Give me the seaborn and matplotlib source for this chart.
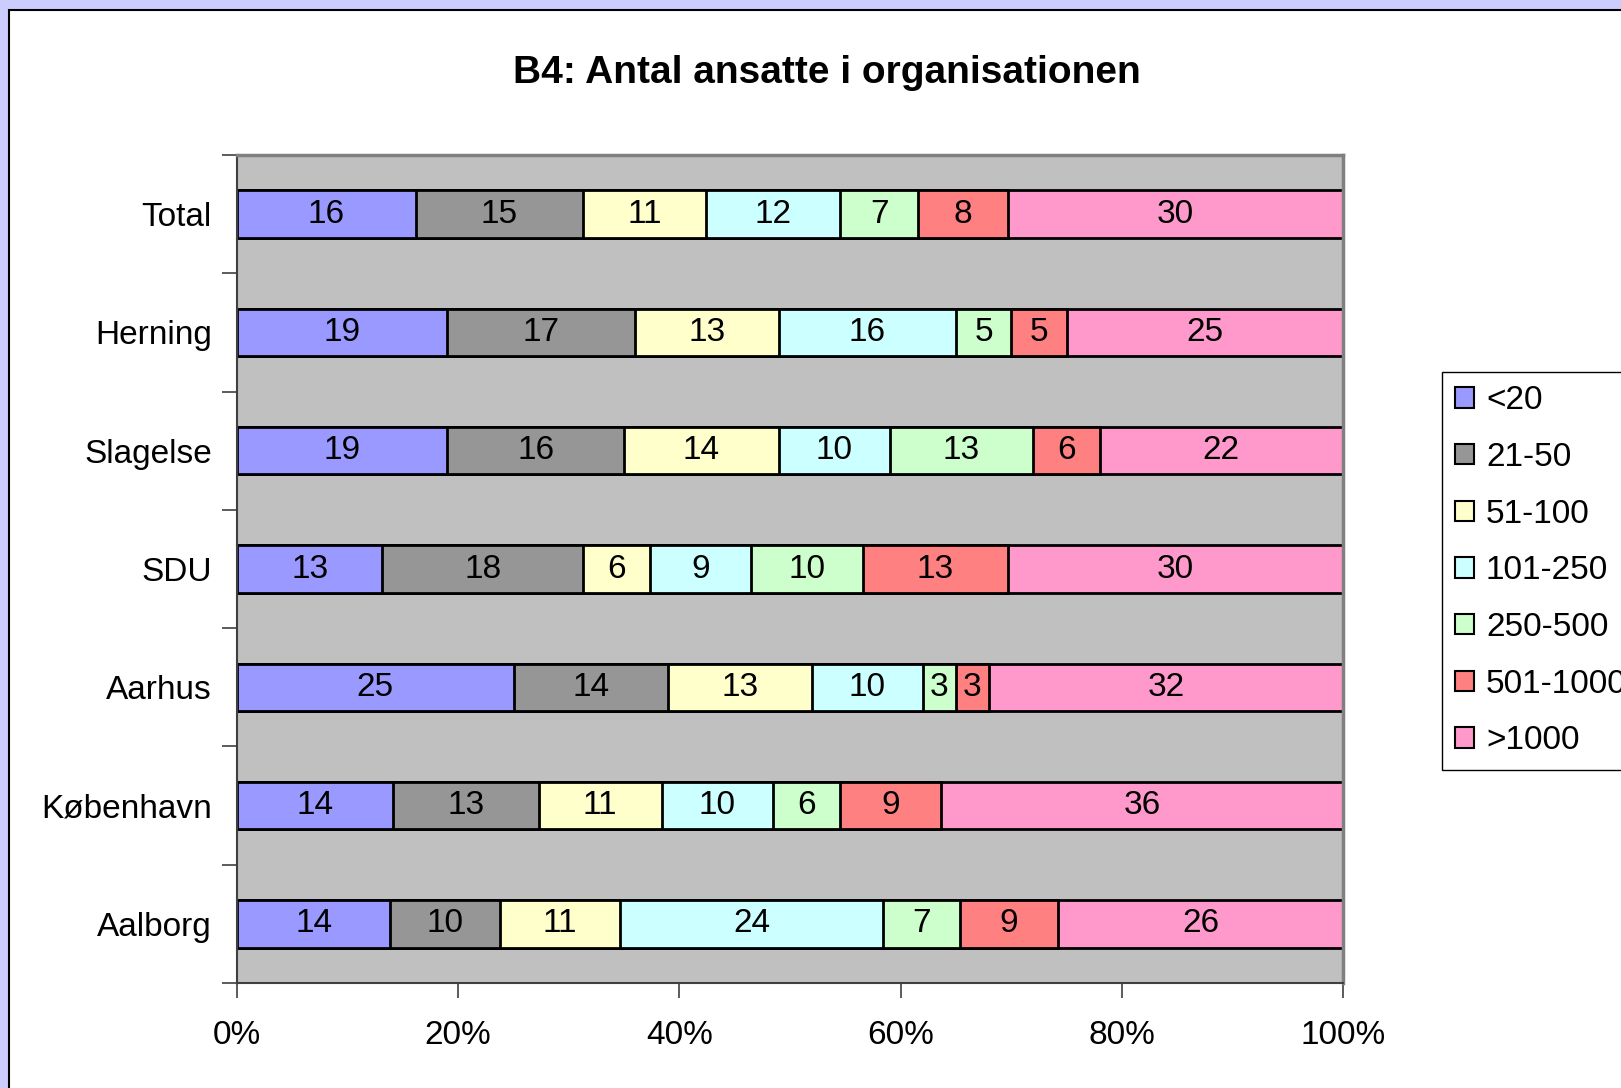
import numpy as np
import pandas as pd
import matplotlib.pyplot as plt
import matplotlib.patches as mpatches
import seaborn as sns

# ── data ───────────────────────────────────────────────────────────
places = ["Total", "Herning", "Slagelse", "SDU", "Aarhus", "København", "Aalborg"]
groups = ["<20", "21-50", "51-100", "101-250", "250-500", "501-1000", ">1000"]
colors = ["#9999FF", "#969696", "#FFFFCC", "#CCFFFF", "#CCFFCC", "#FF8080", "#FF99CC"]

lt20 =     [16, 19, 19, 13, 25, 14, 14]
g21_50 =   [15, 17, 16, 18, 14, 13, 10]
g51_100 =  [11, 13, 14, 6, 13, 11, 11]
g101_250 = [12, 16, 10, 9, 10, 10, 24]
g250_500 = [7, 5, 13, 10, 3, 6, 7]
g501_1k =  [8, 5, 6, 13, 3, 9, 9]
gt1000 =   [30, 25, 22, 30, 32, 36, 26]

vals = np.array([lt20, g21_50, g51_100, g101_250, g250_500, g501_1k, gt1000], float).T
pct = vals / vals.sum(axis=1, keepdims=True) * 100
cum = pct.cumsum(axis=1)

df = pd.DataFrame(cum, columns=groups)
df["place"] = places

# ── figure ─────────────────────────────────────────────────────────
sns.set_style("ticks")
plt.rcParams["font.family"] = ["Liberation Sans", "DejaVu Sans"]
plt.rcParams["text.color"] = "black"
plt.rcParams["xtick.labelcolor"] = "black"
plt.rcParams["ytick.labelcolor"] = "black"

W, H = 1621, 1088
fig = plt.figure(figsize=(W / 100, H / 100), dpi=100)
fig.patch.set_facecolor("#CCCCFF")
panel = mpatches.Rectangle((9 / W, -0.1), 1.2, 1 - 10 / H + 0.1,
                           transform=fig.transFigure, facecolor="white",
                           edgecolor="black", linewidth=1.5, zorder=-5)
fig.patches.append(panel)

ax = fig.add_axes([237 / W, 1 - 983 / H, (1343 - 237) / W, (983 - 155) / H])
ax.set_facecolor("#C0C0C0")

# stacked bars: draw cumulative totals from widest to narrowest
for k in reversed(range(len(groups))):
    sns.barplot(data=df, x=groups[k], y="place", orient="h", color=colors[k],
                saturation=1, width=0.4, edgecolor="black", linewidth=2, ax=ax)

for i in range(len(places)):
    for k in range(len(groups)):
        ax.text(cum[i, k] - pct[i, k] / 2, i, f"{int(vals[i, k])}",
                ha="center", va="center", fontsize=24, color="black")

ax.set_xlim(0, 100)
ax.set_ylim(6.5, -0.5)
ax.set_xticks(range(0, 101, 20))
ax.set_xticklabels([f"{v}%" for v in range(0, 101, 20)])
ax.set_yticks(np.arange(-0.5, 7, 1), minor=True)
ax.set_xlabel("")
ax.set_ylabel("")
ax.tick_params(axis="x", labelsize=24, length=11, width=1.2, pad=16, color="#404040")
ax.tick_params(axis="y", which="major", labelsize=24, length=0, pad=18)
ax.tick_params(axis="y", which="minor", length=11, width=1.2, color="#404040")

for s in ["left", "bottom"]:
    ax.spines[s].set_color("#404040")
    ax.spines[s].set_linewidth(1.5)
for s in ["top", "right"]:
    ax.spines[s].set_color("#808080")
    ax.spines[s].set_linewidth(2.5)

fig.text(827 / W, 1 - 73 / H, "B4: Antal ansatte i organisationen",
         ha="center", va="center", fontsize=28, fontweight="bold")

handles = [mpatches.Patch(facecolor=c, edgecolor="black", linewidth=1.5) for c in colors]
leg = fig.legend(handles, groups, loc="upper left",
                 bbox_to_anchor=(1442 / W, 1 - 372 / H), fontsize=24,
                 frameon=True, fancybox=False, framealpha=1, edgecolor="black",
                 handlelength=0.57, handleheight=0.57, handletextpad=0.35,
                 labelspacing=0.77, borderpad=0.4, borderaxespad=0)
leg.get_frame().set_linewidth(1.0)

fig.savefig("out.png", dpi=100, facecolor=fig.get_facecolor())
